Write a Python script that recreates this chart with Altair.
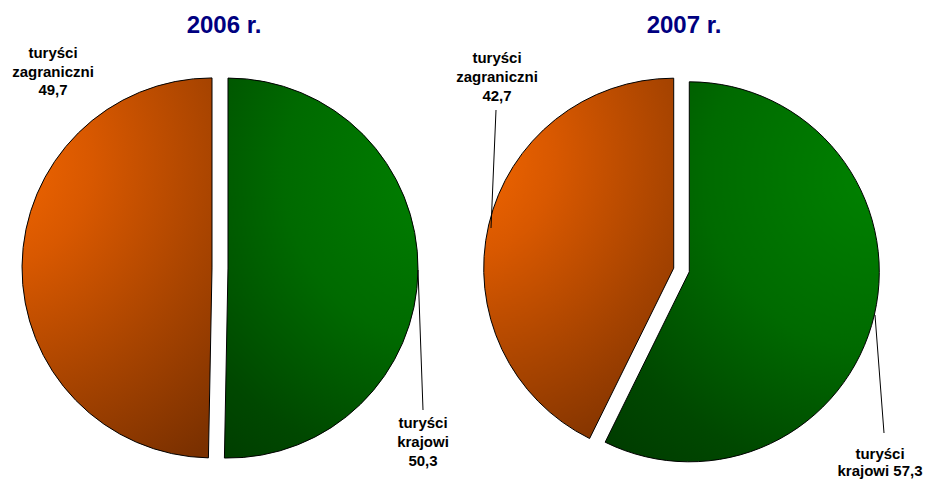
import math
import altair as alt
import pandas as pd

# ---------------- data ----------------
years = ["2006 r.", "2007 r."]
categories = ["turyści krajowi", "turyści zagraniczni"]
values_2006 = [50.3, 49.7]
values_2007 = [57.3, 42.7]

label_lines = {
    ("2006 r.", "turyści zagraniczni"): ["turyści", "zagraniczni", "49,7"],
    ("2006 r.", "turyści krajowi"): ["turyści", "krajowi", "50,3"],
    ("2007 r.", "turyści zagraniczni"): ["turyści", "zagraniczni", "42,7"],
    ("2007 r.", "turyści krajowi"): ["turyści", "krajowi 57,3"],
}

# ---------------- layout (image pixels) ----------------
M = 8  # page margin
W, H = 917, 472
centers = {"2006 r.": (220, 268), "2007 r.": (681.5, 270)}
radius = 190
explode = 8
title_pos = {"2006 r.": (224, 33), "2007 r.": (684, 33)}
label_pos = {
    ("2006 r.", "turyści zagraniczni"): (53, [58, 77, 95]),
    ("2006 r.", "turyści krajowi"): (423, [428, 447, 466]),
    ("2007 r.", "turyści zagraniczni"): (497, [63, 82, 101]),
    ("2007 r.", "turyści krajowi"): (880, [459, 476]),
}
leaders = [
    (418, 270, 423, 410),
    (496, 110, 491, 228),
    (875, 315, 884, 433),
]

# ---------------- tables ----------------
rows = []
for yr, vals in zip(years, [values_2006, values_2007]):
    for i, (cat, v) in enumerate(zip(categories, vals)):
        rows.append({"year": yr, "cat": cat, "value": v, "order": i,
                     "cx": centers[yr][0] - M, "cy": centers[yr][1] - M})
pie_df = pd.DataFrame(rows)

lab_rows = []
for key, lines in label_lines.items():
    x, ys = label_pos[key]
    for t, y in zip(lines, ys):
        lab_rows.append({"x": x - M, "y": y - M, "text": t})
lab_df = pd.DataFrame(lab_rows)

title_df = pd.DataFrame([{"x": title_pos[y][0] - M, "y": title_pos[y][1] - M, "text": y} for y in years])
lead_df = pd.DataFrame([{"x": a - M, "y": b - M, "x2": c - M, "y2": d - M} for a, b, c, d in leaders])

# ---------------- chart ----------------
base = (
    alt.Chart(pie_df)
    .transform_joinaggregate(total="sum(value)", groupby=["year"])
    .transform_stack(stack="value", groupby=["year"], as_=["v0", "v1"],
                     sort=[alt.SortField("order", order="ascending")])
    .transform_calculate(
        f0="datum.v0 / datum.total",
        f1="datum.v1 / datum.total",
        mid="(datum.v0 + datum.v1) / 2 / datum.total * 2 * PI",
    )
    .transform_calculate(
        ex=f"datum.cx + {explode} * sin(datum.mid)",
        ey=f"datum.cy - {explode} * cos(datum.mid)",
    )
)

enc = dict(
    theta=alt.Theta("f0:Q", scale=alt.Scale(domain=[0, 1], range=[0, 2 * math.pi])),
    theta2="f1:Q",
    x=alt.X("ex:Q", scale=None, axis=None),
    y=alt.Y("ey:Q", scale=None, axis=None),
)

green_grad = alt.RadialGradient(
    gradient="radial",
    stops=[alt.GradientStop(color="#008200", offset=0),
           alt.GradientStop(color="#006a00", offset=0.45),
           alt.GradientStop(color="#004800", offset=0.8),
           alt.GradientStop(color="#003c00", offset=1)],
    x1=0.85, y1=0.25, r1=0, x2=0.85, y2=0.25, r2=1.0,
)
orange_grad = alt.RadialGradient(
    gradient="radial",
    stops=[alt.GradientStop(color="#f66800", offset=0),
           alt.GradientStop(color="#d85800", offset=0.3),
           alt.GradientStop(color="#a84400", offset=0.65),
           alt.GradientStop(color="#7a3000", offset=1)],
    x1=0.15, y1=0.22, r1=0, x2=0.15, y2=0.22, r2=0.95,
)

green = base.transform_filter(alt.datum.cat == categories[0]).mark_arc(
    radius=radius, fill=green_grad, stroke="black", strokeWidth=1
).encode(**enc)
orange = base.transform_filter(alt.datum.cat == categories[1]).mark_arc(
    radius=radius, fill=orange_grad, stroke="black", strokeWidth=1
).encode(**enc)

lead = alt.Chart(lead_df).mark_rule(color="black", strokeWidth=1).encode(
    x=alt.X("x:Q", scale=None, axis=None), y=alt.Y("y:Q", scale=None, axis=None),
    x2="x2:Q", y2="y2:Q",
)

labels = alt.Chart(lab_df).mark_text(
    font="Liberation Sans", fontWeight="bold", fontSize=15, color="black",
    align="center", baseline="alphabetic",
).encode(
    x=alt.X("x:Q", scale=None, axis=None), y=alt.Y("y:Q", scale=None, axis=None),
    text="text:N",
)

titles = alt.Chart(title_df).mark_text(
    font="Liberation Sans", fontWeight="bold", fontSize=24, color="#000080",
    align="center", baseline="alphabetic",
).encode(
    x=alt.X("x:Q", scale=None, axis=None), y=alt.Y("y:Q", scale=None, axis=None),
    text="text:N",
)

chart = alt.layer(green, orange, lead, labels, titles).properties(
    width=W, height=H, padding=0, autosize=alt.AutoSizeParams(type="none"),
).configure_view(stroke=None)

chart.save("out.html", embed_options={"renderer": "svg", "actions": False})
